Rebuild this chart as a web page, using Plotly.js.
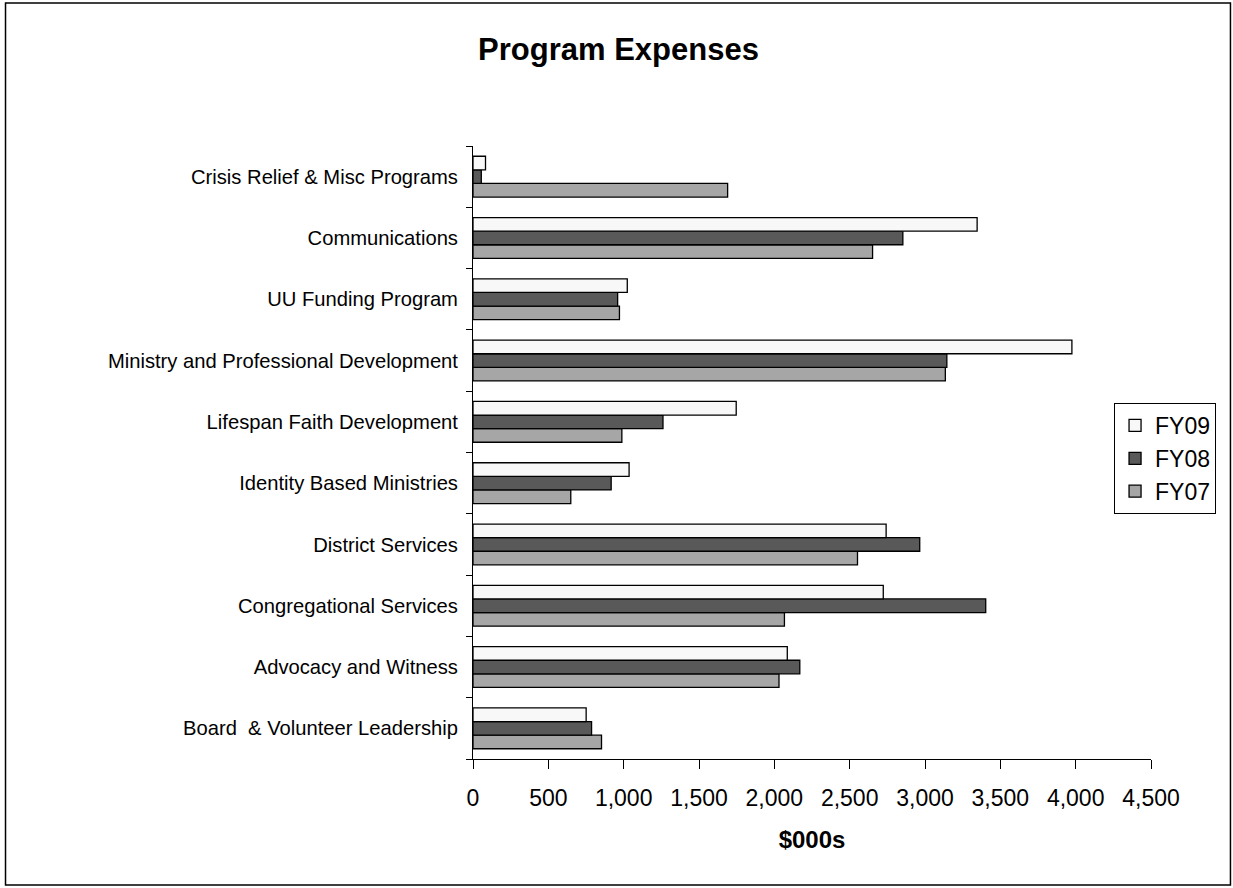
<!DOCTYPE html>
<html>
<head>
<meta charset="utf-8">
<script src="https://cdn.plot.ly/plotly-3.0.1.min.js"></script>
<style>
  html, body { margin: 0; padding: 0; background: #ffffff; }
  #chart { width: 1233px; height: 888px; }
</style>
</head>
<body>
<div id="chart"></div>
<script>
// Program categories, listed bottom to top
const categories = [
  'Board \u00a0& Volunteer Leadership',
  'Advocacy and Witness',
  'Congregational Services',
  'District Services',
  'Identity Based Ministries',
  'Lifespan Faith Development',
  'Ministry and Professional Development',
  'UU Funding Program',
  'Communications',
  'Crisis Relief & Misc Programs'
];

// Expenses in $000s, same order as categories
const fy09 = [751, 2086, 2723, 2742, 1036, 1747, 3975, 1024, 3346, 83];
const fy08 = [787, 2169, 3403, 2965, 917, 1261, 3145, 960, 2853, 55];
const fy07 = [853, 2031, 2067, 2552, 649, 988, 3135, 972, 2652, 1690];

const xTickValues = [0, 500, 1000, 1500, 2000, 2500, 3000, 3500, 4000, 4500];

const FONT = 'Liberation Sans, Arial, Helvetica, sans-serif';

function barTrace(name, values, fill) {
  return {
    type: 'bar',
    orientation: 'h',
    name: name,
    x: values,
    y: categories,
    marker: { color: fill, line: { color: '#000000', width: 1.3 } },
    hoverinfo: 'x+name'
  };
}

// FY07 first so it sits at the bottom of each group
const traces = [
  barTrace('FY07', fy07, '#a6a6a6'),
  barTrace('FY08', fy08, '#595959'),
  barTrace('FY09', fy09, '#f8f8f8')
];

const layout = {
  width: 1233,
  height: 888,
  margin: { l: 472.7, r: 82, t: 146, b: 129, pad: 0 },
  paper_bgcolor: '#ffffff',
  plot_bgcolor: '#ffffff',
  font: { family: FONT, color: '#000000' },
  barmode: 'group',
  bargap: 0.335,
  bargroupgap: 0,
  showlegend: true,
  title: {
    text: '<b>Program Expenses</b>',
    font: { family: FONT, size: 31, color: '#000000' },
    xref: 'container', x: 0.5016, xanchor: 'center',
    yref: 'container', y: 0.945, yanchor: 'middle'
  },
  xaxis: {
    range: [0, 4500],
    tickvals: xTickValues,
    tickformat: ',',
    ticks: 'outside',
    ticklen: 9,
    tickcolor: '#000000',
    tickwidth: 1,
    ticklabelstandoff: 9,
    showline: true,
    linecolor: '#000000',
    linewidth: 1,
    showgrid: false,
    zeroline: false,
    tickfont: { family: FONT, size: 23, color: '#000000' },
    title: {
      text: '<b>$000s</b>',
      font: { family: FONT, size: 24, color: '#000000' },
      standoff: 21
    },
    fixedrange: true
  },
  yaxis: {
    type: 'category',
    categoryorder: 'array',
    categoryarray: categories,
    tickson: 'boundaries',
    ticks: 'outside',
    ticklen: 6,
    tickcolor: '#000000',
    tickwidth: 1,
    ticklabelstandoff: 10,
    showline: true,
    linecolor: '#000000',
    linewidth: 1,
    showgrid: false,
    zeroline: false,
    tickfont: { family: FONT, size: 20.2, color: '#000000' },
    fixedrange: true
  },
  legend: {
    x: 0.9455, xanchor: 'left',
    y: 0.5808, yanchor: 'top',
    traceorder: 'reversed',
    bgcolor: '#ffffff',
    bordercolor: '#000000',
    borderwidth: 1,
    font: { family: FONT, size: 23, color: '#000000' },
    itemwidth: 30
  },
  shapes: [{
    // frame around the whole chart
    type: 'rect', xref: 'paper', yref: 'paper',
    x0: -0.6895, x1: 1.1172, y0: -0.2055, y1: 1.2333,
    line: { color: '#000000', width: 1.5 },
    fillcolor: 'rgba(0,0,0,0)', layer: 'below'
  }]
};

Plotly.newPlot('chart', traces, layout, { displayModeBar: false, staticPlot: true });
</script>
</body>
</html>
